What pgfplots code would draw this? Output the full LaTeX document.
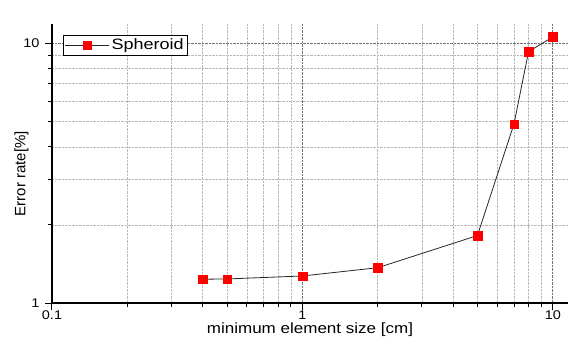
\documentclass[border=0pt]{standalone}
\usepackage{pgfplots}
\pgfplotsset{compat=1.18}
\usepackage{fontspec}
\setmainfont{Liberation Sans}
\newfontfamily\widefont[FakeStretch=1.15]{Liberation Sans}
\newfontfamily\widerfont[FakeStretch=1.2]{Liberation Sans}
\begin{document}
\begin{tikzpicture}
\useasboundingbox (0,0) rectangle (569pt,340pt);
\begin{axis}[
  at={(52pt,37pt)}, anchor=south west,
  scale only axis, width=516pt, height=279pt,
  xmode=log, ymode=log,
  xmin=0.1, xmax=11.5, ymin=1, ymax=11.9,
  axis lines*=left,
  axis line style={line width=1.1pt},
  xtick={0.1,1,10}, xticklabels={0.1,1,10},
  ytick={1,10}, yticklabels={1,10},
  minor xtick={0.2,0.3,0.4,0.5,0.6,0.7,0.8,0.9,2,3,4,5,6,7,8,9},
  minor ytick={2,3,4,5,6,7,8,9},
  tick align=outside,
  major tick length=7pt, minor tick length=4pt,
  every tick/.style={black, line width=1pt},
  grid=both,
  major grid style={densely dotted, black!55, line width=0.7pt},
  minor grid style={densely dotted, black!28, line width=0.6pt},
  /pgf/number format/assume math mode=true,
  xticklabel style={font=\widefont\fontsize{12.6}{13}\selectfont, yshift=3pt},
  yticklabel style={font=\widefont\fontsize{12.6}{13}\selectfont, xshift=-2pt},
  xlabel={minimum element size [cm]},
  xlabel style={font=\widefont\fontsize{14.8}{16}\selectfont, yshift=4pt},
  ylabel={Error rate[\%]},
  ylabel style={font=\fontsize{15}{16}\selectfont, yshift=-12pt, xshift=-10pt},
  legend style={at={(rel axis cs:0.021,0.96)}, anchor=north west, draw=black, line width=0.8pt,
    inner sep=1.5pt, legend cell align=left},
  legend image code/.code={\draw[mark repeat=2,mark phase=2] plot coordinates {(0pt,0pt) (22pt,0pt) (44pt,0pt)};},
]
\addplot[black!85, line width=0.8pt, mark=square*, mark size=4.3pt,
  mark options={fill=red, draw=red, solid, line width=0.3pt}]
  coordinates {(0.4,1.235) (0.5,1.238) (1,1.271) (2,1.368) (5,1.82) (7,4.90) (8,9.31) (10,10.61)};
\addlegendentry{\widerfont\fontsize{15}{16}\selectfont Spheroid}
\end{axis}
\end{tikzpicture}
\end{document}
